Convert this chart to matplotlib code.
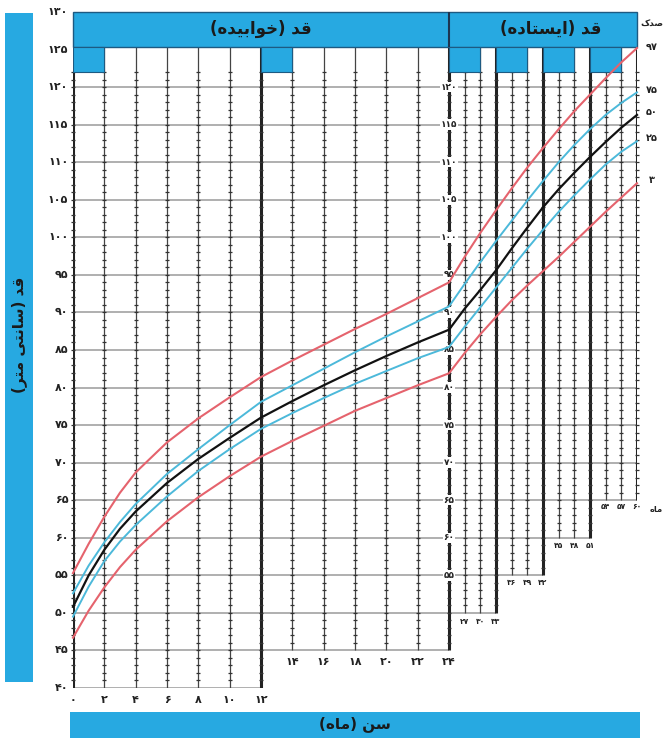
import numpy as np
import matplotlib
matplotlib.use("Agg")
import matplotlib.pyplot as plt
from matplotlib.patches import Rectangle

plt.rcParams["font.family"] = ["DejaVu Sans"]

# --- data (height in cm) ---
months_lying = [0, 1, 2, 3, 4, 6, 8, 10, 12, 14, 16, 18, 20, 22, 24]
p97_lying = [55.3, 59.2, 62.8, 66.0, 68.7, 72.7, 75.9, 78.7, 81.4, 83.6, 85.7, 87.8, 89.8, 91.9, 94.0]
p75_lying = [52.6, 56.3, 59.4, 62.1, 64.5, 68.5, 71.8, 75.0, 78.1, 80.3, 82.5, 84.7, 86.8, 88.8, 90.8]
p50_lying = [50.8, 55.0, 58.4, 61.2, 63.5, 67.3, 70.5, 73.3, 76.0, 78.2, 80.3, 82.3, 84.2, 86.0, 87.7]
p25_lying = [49.5, 53.5, 56.9, 59.5, 61.7, 65.5, 68.9, 71.8, 74.5, 76.6, 78.6, 80.5, 82.2, 83.9, 85.4]
p3_lying = [46.7, 50.3, 53.4, 56.1, 58.4, 62.2, 65.4, 68.2, 70.8, 72.9, 74.9, 76.9, 78.6, 80.3, 81.9]

months_standing = [24, 27, 30, 33, 36, 39, 42, 45, 48, 51, 54, 57, 60]
p97_standing = [94.0, 97.4, 100.6, 103.6, 106.5, 109.3, 111.9, 114.4, 116.8, 119.0, 121.2, 123.3, 125.2]
p75_standing = [90.8, 93.8, 96.7, 99.5, 102.2, 104.9, 107.5, 110.0, 112.3, 114.4, 116.3, 117.9, 119.3]
p50_standing = [87.7, 90.5, 93.0, 95.6, 98.5, 101.3, 104.0, 106.4, 108.6, 110.7, 112.7, 114.6, 116.3]
p25_standing = [85.4, 88.1, 90.7, 93.3, 95.9, 98.5, 101.0, 103.4, 105.6, 107.7, 109.7, 111.4, 112.8]
p3_standing = [81.9, 84.6, 87.1, 89.4, 91.6, 93.6, 95.5, 97.4, 99.4, 101.4, 103.4, 105.3, 107.2]

height_ticks = list(range(40, 131, 5))
inner_ticks = list(range(55, 121, 5))
lying_ticks = list(range(0, 25, 2))
standing_ticks = list(range(27, 61, 3))
percentiles = [97, 75, 50, 25, 3]

BLUE = "#27a9e1"
RED = "#e5636d"
CYAN = "#4cb9da"

# --- minimal Persian shaping (matplotlib has no RTL / joining) ---
FORMS = {
    "ا": ("\uFE8D", "\uFE8E", None, None),
    "ب": ("\uFE8F", "\uFE90", "\uFE91", "\uFE92"),
    "ت": ("\uFE95", "\uFE96", "\uFE97", "\uFE98"),
    "خ": ("\uFEA5", "\uFEA6", "\uFEA7", "\uFEA8"),
    "د": ("\uFEA9", "\uFEAA", None, None),
    "ر": ("\uFEAD", "\uFEAE", None, None),
    "س": ("\uFEB1", "\uFEB2", "\uFEB3", "\uFEB4"),
    "ص": ("\uFEB9", "\uFEBA", "\uFEBB", "\uFEBC"),
    "ق": ("\uFED5", "\uFED6", "\uFED7", "\uFED8"),
    "م": ("\uFEE1", "\uFEE2", "\uFEE3", "\uFEE4"),
    "ن": ("\uFEE5", "\uFEE6", "\uFEE7", "\uFEE8"),
    "ه": ("\uFEE9", "\uFEEA", "\uFEEB", "\uFEEC"),
    "و": ("\uFEED", "\uFEEE", None, None),
    "ی": ("\uFEEF", "\uFEF0", "\uFEF3", "\uFEF4"),
    "ک": ("\uFB8E", "\uFB8F", "\uFB90", "\uFB91"),
}


def fa_text(s):
    out = []
    for i, c in enumerate(s):
        if c not in FORMS:
            out.append(c)
            continue
        prev = s[i - 1] if i > 0 else ""
        nxt = s[i + 1] if i + 1 < len(s) else ""
        iso, fin, ini, med = FORMS[c]
        join_prev = prev in FORMS and FORMS[prev][2] is not None
        join_next = ini is not None and nxt in FORMS
        if join_prev and join_next:
            out.append(med)
        elif join_prev:
            out.append(fin)
        elif join_next:
            out.append(ini)
        else:
            out.append(iso)
    vis = "".join(out)[::-1]
    return vis.translate(str.maketrans("()", ")("))


def fa_num(n):
    return str(n).translate(str.maketrans("0123456789", "۰۱۲۳۴۵۶۷۸۹"))


def to_pos(m):
    m = np.asarray(m, dtype=float)
    return np.where(m <= 24, m, 24 + (m - 24) / 3)


fig = plt.figure(figsize=(6.71, 7.41), dpi=100)

# pixel frame for the side bars
frame = fig.add_axes([0, 0, 1, 1])
frame.set_xlim(0, 671)
frame.set_ylim(741, 0)
frame.axis("off")
frame.add_patch(Rectangle((5, 13), 28, 669, facecolor=BLUE, edgecolor="none"))
frame.add_patch(Rectangle((70, 712), 570, 26, facecolor=BLUE, edgecolor="none"))
frame.text(19, 335, fa_text("قد (سانتی متر)"), rotation=90, ha="center", va="center",
           fontsize=11, fontweight="bold", color="#1a1a1a")
frame.text(355, 724, fa_text("سن (ماه)"), ha="center", va="center",
           fontsize=11, fontweight="bold", color="#1a1a1a")

ax = fig.add_axes([73 / 671, 53 / 741, 564 / 671, 676 / 741])
ax.set_xlim(0, 36)
ax.set_ylim(40, 130)
ax.axis("off")
ax.patch.set_visible(False)

HEAD_Y = 125.4
TAB_Y = 122.0


# horizontal grid lines (staircase on the right)
def h_end(v):
    if v == 40:
        return 12
    if v == 45:
        return 24
    if v == 50:
        return 27
    if v == 55:
        return 30
    if v == 60:
        return 33
    return 36


for v in height_ticks:
    if v >= 125:
        continue
    ax.hlines(v, 0, h_end(v), color="#9a9a9a", lw=1.1, zorder=1)

# vertical grid lines
thick = {0, 12, 24, 27, 30, 33, 36}
vert = []
for m in lying_ticks:
    vert.append((m, 40 if m <= 12 else 45))
for k, m in enumerate(standing_ticks):
    p = float(to_pos(m))
    vert.append((p, [50, 55, 60, 65][k // 3]))

for p, bottom in vert:
    top = 130 if p == 24 else HEAD_Y
    if round(p) in thick and abs(p - round(p)) < 1e-6:
        ax.vlines(p, bottom, top, color="#222222", lw=2.2, zorder=2)
    else:
        ax.vlines(p, bottom, top, color="#444444", lw=0.9, zorder=2)
    ys = np.arange(bottom + 1, TAB_Y + 0.1, 1.0)
    ax.plot(np.full(len(ys), p), ys, "_", ms=3.2, mew=0.9, color="#333333",
            zorder=2, clip_on=False)

# header and tabs
ax.add_patch(Rectangle((0, HEAD_Y), 36, 130 - HEAD_Y, facecolor=BLUE,
                       edgecolor="#1d5a82", lw=1.0, zorder=3, clip_on=False))
for x0 in [0, 12, 24, 27, 30, 33]:
    ax.add_patch(Rectangle((x0, TAB_Y), 2, HEAD_Y - TAB_Y, facecolor=BLUE,
                           edgecolor="#1d5a82", lw=0.8, zorder=3))
ax.vlines(24, HEAD_Y, 130, color="#1d3550", lw=1.5, zorder=3.5)
ax.text(12, 127.7, fa_text("قد (خوابیده)"), ha="center", va="center",
        fontsize=12, fontweight="bold", color="#1a1a1a", zorder=4)
ax.text(30.5, 127.7, fa_text("قد (ایستاده)"), ha="center", va="center",
        fontsize=12, fontweight="bold", color="#1a1a1a", zorder=4)

# curves
series = [
    (p97_lying, p97_standing, RED, 1.5),
    (p75_lying, p75_standing, CYAN, 1.4),
    (p50_lying, p50_standing, "#111111", 1.6),
    (p25_lying, p25_standing, CYAN, 1.4),
    (p3_lying, p3_standing, RED, 1.5),
]
months_all = months_lying + months_standing[1:]
for lying, standing, col, lw in series:
    vals = lying + standing[1:]
    ax.plot(to_pos(months_all), vals, color=col, lw=lw, zorder=5,
            solid_joinstyle="round", clip_on=False)

# left height labels
for v in height_ticks:
    ax.text(-0.3, v, fa_num(v), ha="right", va="center", fontsize=8,
            fontweight="bold", color="#222222")

# inner labels on the 24-month line
for v in inner_ticks:
    ax.text(24, v, fa_num(v), ha="center", va="center", fontsize=6.5,
            fontweight="bold", color="#222222", zorder=4,
            bbox=dict(boxstyle="square,pad=0.08", facecolor="white", edgecolor="none"))

# age labels
for m in lying_ticks:
    y = 38.4 if m <= 12 else 43.5
    ax.text(m, y, fa_num(m), ha="center", va="center", fontsize=8,
            fontweight="bold", color="#222222")
for k, m in enumerate(standing_ticks):
    y = [48.9, 54.0, 59.0, 64.1][k // 3]
    ax.text(float(to_pos(m)), y, fa_num(m), ha="center", va="center",
            fontsize=5.5, fontweight="bold", color="#222222")
ax.text(37.2, 63.8, fa_text("ماه"), ha="center", va="center", fontsize=6,
        fontweight="bold", color="#222222")

# percentile labels
ax.text(36.95, 128.4, fa_text("صدک"), ha="center", va="center", fontsize=6.5,
        fontweight="bold", color="#222222")
for pc, yv in zip(percentiles, [125.4, 119.6, 116.7, 113.2, 107.6]):
    ax.text(36.95, yv, fa_num(pc), ha="center", va="center", fontsize=7,
            fontweight="bold", color="#222222")

fig.savefig("out.png", dpi=100, facecolor="white")
